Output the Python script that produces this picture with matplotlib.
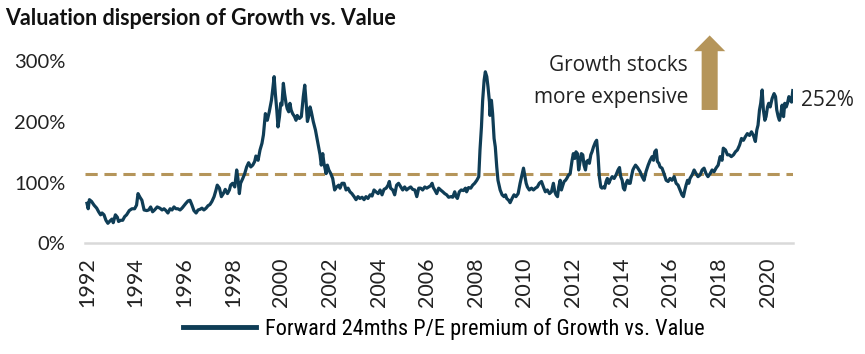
import matplotlib
matplotlib.use("Agg")
import matplotlib.pyplot as plt
from matplotlib.patches import FancyArrow
from matplotlib.lines import Line2D

# P/E premium of Growth vs. Value (%)
years = [1992.00, 1992.05, 1992.10, 1992.19, 1992.29, 1992.40, 1992.48, 1992.56, 1992.62, 1992.70,
         1992.78, 1992.86, 1992.95, 1993.03, 1993.08, 1993.17, 1993.25, 1993.30, 1993.39, 1993.47,
         1993.55, 1993.63, 1993.74, 1993.85, 1993.96, 1994.04, 1994.10, 1994.18, 1994.26, 1994.35,
         1994.46, 1994.54, 1994.62, 1994.70, 1994.78, 1994.89, 1995.00, 1995.09, 1995.17, 1995.25,
         1995.33, 1995.42, 1995.50, 1995.58, 1995.66, 1995.74, 1995.83, 1995.91, 1995.99, 1996.07,
         1996.16, 1996.24, 1996.32, 1996.40, 1996.49, 1996.57, 1996.65, 1996.73, 1996.81, 1996.90,
         1996.98, 1997.06, 1997.14, 1997.23, 1997.31, 1997.36, 1997.45, 1997.53, 1997.61, 1997.69,
         1997.78, 1997.86, 1997.91, 1997.99, 1998.08, 1998.16, 1998.21, 1998.27, 1998.32, 1998.41,
         1998.49, 1998.57, 1998.65, 1998.74, 1998.82, 1998.90, 1998.95, 1999.04, 1999.12, 1999.20,
         1999.26, 1999.34, 1999.42, 1999.50, 1999.59, 1999.64, 1999.70, 1999.75, 1999.81, 1999.86,
         1999.92, 1999.97, 2000.02, 2000.08, 2000.13, 2000.19, 2000.24, 2000.30, 2000.35, 2000.40,
         2000.46, 2000.54, 2000.60, 2000.65, 2000.74, 2000.82, 2000.90, 2000.96, 2001.01, 2001.07,
         2001.12, 2001.18, 2001.23, 2001.31, 2001.40, 2001.48, 2001.53, 2001.59, 2001.64, 2001.70,
         2001.75, 2001.84, 2001.89, 2001.95, 2002.03, 2002.11, 2002.19, 2002.27, 2002.36, 2002.41,
         2002.49, 2002.58, 2002.66, 2002.74, 2002.82, 2002.90, 2002.99, 2003.07, 2003.15, 2003.23,
         2003.32, 2003.40, 2003.48, 2003.56, 2003.65, 2003.73, 2003.81, 2003.89, 2003.98, 2004.06,
         2004.14, 2004.22, 2004.31, 2004.39, 2004.44, 2004.49, 2004.58, 2004.66, 2004.74, 2004.82,
         2004.91, 2004.99, 2005.07, 2005.15, 2005.24, 2005.32, 2005.40, 2005.49, 2005.57, 2005.65,
         2005.73, 2005.81, 2005.90, 2005.98, 2006.06, 2006.14, 2006.20, 2006.25, 2006.31, 2006.39,
         2006.47, 2006.55, 2006.64, 2006.72, 2006.80, 2006.88, 2006.97, 2007.05, 2007.13, 2007.19,
         2007.24, 2007.32, 2007.40, 2007.49, 2007.57, 2007.62, 2007.70, 2007.79, 2007.87, 2007.95,
         2008.04, 2008.12, 2008.17, 2008.23, 2008.28, 2008.34, 2008.39, 2008.45, 2008.50, 2008.56,
         2008.58, 2008.64, 2008.69, 2008.75, 2008.80, 2008.86, 2008.91, 2009.00, 2009.08, 2009.16,
         2009.22, 2009.27, 2009.35, 2009.41, 2009.49, 2009.57, 2009.65, 2009.74, 2009.82, 2009.90,
         2009.96, 2010.01, 2010.07, 2010.12, 2010.20, 2010.29, 2010.37, 2010.45, 2010.53, 2010.61,
         2010.70, 2010.78, 2010.86, 2010.94, 2011.03, 2011.11, 2011.19, 2011.25, 2011.30, 2011.36,
         2011.41, 2011.47, 2011.52, 2011.58, 2011.63, 2011.69, 2011.74, 2011.82, 2011.88, 2011.96,
         2012.01, 2012.07, 2012.12, 2012.18, 2012.23, 2012.29, 2012.34, 2012.40, 2012.45, 2012.51,
         2012.56, 2012.62, 2012.67, 2012.73, 2012.78, 2012.84, 2012.92, 2012.97, 2013.03, 2013.08,
         2013.14, 2013.19, 2013.25, 2013.30, 2013.36, 2013.41, 2013.47, 2013.52, 2013.61, 2013.69,
         2013.77, 2013.85, 2013.91, 2013.96, 2014.02, 2014.07, 2014.12, 2014.18, 2014.24, 2014.29,
         2014.35, 2014.40, 2014.46, 2014.51, 2014.57, 2014.65, 2014.71, 2014.76, 2014.84, 2014.92,
         2015.00, 2015.09, 2015.17, 2015.25, 2015.31, 2015.36, 2015.42, 2015.47, 2015.53, 2015.58,
         2015.66, 2015.74, 2015.83, 2015.91, 2015.99, 2016.07, 2016.16, 2016.24, 2016.32, 2016.40,
         2016.48, 2016.54, 2016.60, 2016.65, 2016.71, 2016.76, 2016.81, 2016.90, 2016.98, 2017.06,
         2017.14, 2017.23, 2017.31, 2017.39, 2017.47, 2017.55, 2017.64, 2017.72, 2017.80, 2017.88,
         2017.97, 2018.05, 2018.13, 2018.18, 2018.27, 2018.35, 2018.43, 2018.51, 2018.60, 2018.68,
         2018.76, 2018.85, 2018.93, 2019.01, 2019.09, 2019.17, 2019.26, 2019.34, 2019.42, 2019.50,
         2019.56, 2019.61, 2019.67, 2019.72, 2019.78, 2019.83, 2019.89, 2019.94, 2020.00, 2020.05,
         2020.11, 2020.19, 2020.27, 2020.33, 2020.38, 2020.44, 2020.49, 2020.55, 2020.60, 2020.66,
         2020.71, 2020.77, 2020.82, 2020.88, 2020.93, 2020.99, 2021.04]
premium = [66, 57, 72, 69, 63, 58, 52, 47, 50, 47,
           38, 33, 37, 40, 34, 47, 43, 36, 38, 38,
           44, 47, 54, 57, 57, 63, 82, 76, 71, 55,
           54, 55, 60, 52, 55, 60, 58, 55, 57, 54,
           50, 57, 55, 60, 57, 57, 55, 58, 62, 66,
           70, 71, 63, 54, 50, 55, 56, 58, 55, 58,
           62, 64, 69, 77, 88, 96, 91, 77, 82, 89,
           82, 88, 96, 99, 93, 121, 107, 82, 99, 107,
           115, 126, 133, 126, 129, 135, 144, 137, 154, 165,
           179, 214, 203, 217, 236, 253, 275, 247, 220, 192,
           209, 231, 228, 264, 247, 231, 222, 217, 231, 220,
           214, 209, 203, 211, 206, 209, 242, 261, 236, 201,
           209, 225, 217, 201, 187, 170, 159, 146, 129, 148,
           132, 115, 129, 121, 115, 107, 88, 93, 96, 91,
           99, 99, 88, 91, 85, 82, 77, 72, 77, 74,
           76, 72, 77, 74, 80, 78, 88, 85, 82, 88,
           80, 89, 91, 96, 102, 91, 88, 80, 96, 99,
           93, 88, 93, 88, 91, 93, 89, 88, 77, 91,
           91, 88, 93, 91, 93, 95, 99, 92, 88, 82,
           91, 88, 85, 82, 80, 76, 77, 76, 85, 77,
           74, 85, 88, 87, 91, 85, 92, 91, 96, 99,
           104, 110, 154, 192, 236, 269, 283, 275, 258, 233,
           211, 236, 214, 173, 159, 126, 104, 88, 80, 77,
           80, 74, 71, 67, 74, 80, 77, 82, 99, 113,
           124, 113, 99, 93, 88, 91, 88, 91, 93, 99,
           102, 93, 85, 88, 82, 85, 99, 85, 80, 77,
           93, 104, 88, 96, 102, 104, 107, 113, 115, 137,
           148, 140, 151, 148, 121, 135, 148, 146, 129, 121,
           135, 137, 132, 146, 151, 159, 167, 170, 143, 110,
           93, 91, 93, 91, 102, 107, 99, 104, 110, 107,
           113, 121, 125, 110, 104, 91, 88, 99, 104, 99,
           99, 110, 121, 125, 129, 125, 121, 118, 110, 104,
           118, 129, 137, 143, 137, 151, 154, 135, 132, 126,
           124, 115, 104, 102, 107, 104, 110, 99, 96, 88,
           80, 77, 88, 96, 104, 99, 107, 113, 121, 115,
           110, 113, 121, 124, 115, 110, 115, 121, 118, 124,
           129, 143, 137, 157, 154, 146, 146, 143, 146, 151,
           154, 162, 173, 170, 176, 181, 178, 184, 178, 168,
           187, 195, 220, 231, 253, 220, 203, 209, 225, 231,
           225, 239, 247, 242, 220, 209, 203, 214, 228, 209,
           231, 225, 231, 242, 236, 233, 252]
average = 114
tick_years = list(range(1992, 2021, 2))
y_ticks = [0, 100, 200, 300]

navy = "#0f3d56"
gold = "#b5955a"

fig = plt.figure(figsize=(8.65, 3.54), dpi=100)
ax = fig.add_axes([0.0983, 0.3127, 0.8185, 0.5992])

ax.plot(years, premium, color=navy, linewidth=2.3, solid_joinstyle="round", zorder=3)
ax.plot([1991.92, 2021.05], [average, average], color=gold, linewidth=2.2,
        dashes=(4, 2.2), zorder=2)

ax.set_xlim(1991.92, 2021.05)
ax.set_ylim(0, 350)
ax.set_xticks(tick_years)
ax.set_xticklabels([str(y) for y in tick_years], rotation=90, fontsize=15.5,
                   family="Lato", color="#222222")
ax.set_yticks(y_ticks)
ax.set_yticklabels([f"{v}%" for v in y_ticks], fontsize=14.5, family="Lato",
                   color="#222222")
ax.tick_params(axis="x", length=0, pad=10)
ax.tick_params(axis="y", length=0, pad=14)
for s in ["top", "right", "left"]:
    ax.spines[s].set_visible(False)
ax.spines["bottom"].set_color("#d9d9d9")
ax.spines["bottom"].set_linewidth(1.8)

# arrow + annotation
ax.add_patch(FancyArrow(2017.62, 220, 0, 123, width=0.66, head_width=1.28,
                        head_length=26, length_includes_head=True,
                        color=gold, linewidth=0, zorder=4))
ax.text(2016.73, 293, "Growth stocks", ha="right", va="center", fontsize=15,
        family="Open Sans", color="#222222")
ax.text(2016.73, 240, "more expensive", ha="right", va="center", fontsize=15,
        family="Open Sans", color="#222222")
ax.text(2021.38, 236, f"{premium[-1]}%", ha="left", va="center", fontsize=15,
        family="Open Sans", color="#222222")

fig.text(0.006, 0.949, "Valuation dispersion of Growth vs. Value", ha="left",
         va="center", fontsize=15.5, fontweight="bold", family="Lato", color="#111111")

handle = Line2D([], [], color=navy, linewidth=3.5)
fig.legend([handle], ["Forward 24mths P/E premium of Growth vs. Value"],
           loc="center", bbox_to_anchor=(0.513, 1 - 329 / 354), frameon=False,
           handlelength=3.3, handletextpad=0.4,
           prop={"family": ["DejaVu Sans Condensed", "Roboto Condensed", "Lato"], "size": 16})

fig.savefig("out.png", dpi=100)
